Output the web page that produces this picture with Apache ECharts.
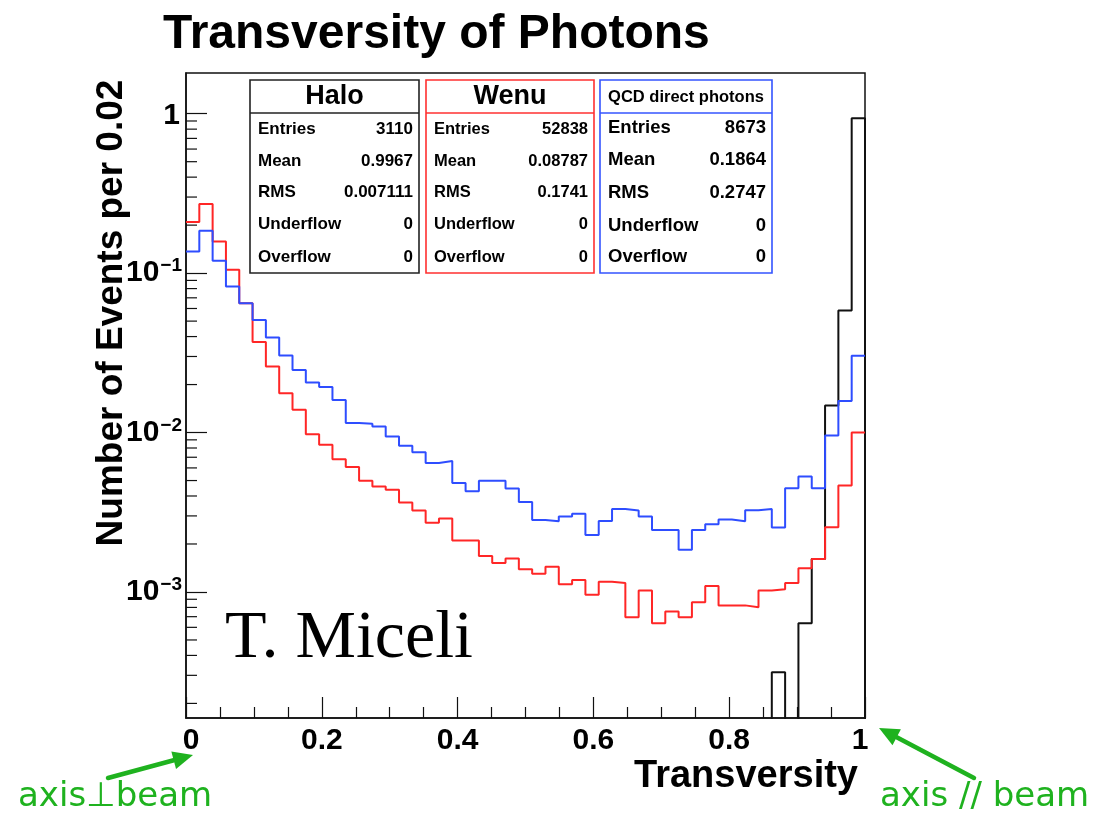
<!DOCTYPE html>
<html>
<head>
<meta charset="utf-8">
<script src="https://cdn.jsdelivr.net/npm/echarts@6/dist/echarts.min.js"></script>
<style>
  html, body { margin: 0; padding: 0; background: #fff; }
  #chart { width: 1095px; height: 815px; }
</style>
</head>
<body>
<div id="chart"></div>
<script>
// Normalised transversity histograms, 51 equal bins spanning 0..1
const binCount = 51;

const wenu = [
  0.2089, 0.2710, 0.1578, 0.1049, 0.0648, 0.03692, 0.02594, 0.01767, 0.01388, 0.00977,
  0.00837, 0.00681, 0.00607, 0.00498, 0.00458, 0.00437, 0.00364, 0.00324, 0.00272, 0.00289,
  0.00210, 0.00210, 0.00168, 0.00152, 0.00162, 0.00139, 0.00130, 0.00144, 0.00112, 0.00119,
  0.000959, 0.00116, 0.00114, 0.000693, 0.00102, 0.000637, 0.000753, 0.000693, 0.000861, 0.00109,
  0.000824, 0.000824, 0.000803, 0.00102, 0.00104, 0.00114, 0.00141, 0.00161, 0.00255, 0.00466,
  0.0100
];

const qcd = [
  0.1366, 0.1842, 0.1195, 0.0824, 0.0648, 0.0509, 0.0394, 0.0304, 0.0247, 0.0206,
  0.0193, 0.0160, 0.01146, 0.01135, 0.01091, 0.00944, 0.00825, 0.00753, 0.00645, 0.00662,
  0.00482, 0.00429, 0.00498, 0.00498, 0.00445, 0.00367, 0.00283, 0.00278, 0.00297, 0.00309,
  0.00228, 0.00279, 0.00331, 0.00324, 0.00297, 0.00245, 0.00245, 0.00184, 0.00245, 0.00266,
  0.00285, 0.00278, 0.00325, 0.00331, 0.00254, 0.00448, 0.00530, 0.00448, 0.00960, 0.0158,
  0.0303
];

const halo = [
  0, 0, 0, 0, 0, 0, 0, 0, 0, 0,
  0, 0, 0, 0, 0, 0, 0, 0, 0, 0,
  0, 0, 0, 0, 0, 0, 0, 0, 0, 0,
  0, 0, 0, 0, 0, 0, 0, 0, 0, 0,
  0, 0, 0, 0, 0.000314, 0, 0.000637, 0.00161, 0.0148, 0.0582,
  0.938
];

// Statistics boxes
const statNames = ['Entries', 'Mean', 'RMS', 'Underflow', 'Overflow'];
const haloStats = ['3110', '0.9967', '0.007111', '0', '0'];
const wenuStats = ['52838', '0.08787', '0.1741', '0', '0'];
const qcdStats  = ['8673', '0.1864', '0.2747', '0', '0'];

// Axis ranges
const xRange = [0, 1];
const yRange = [1.62e-4, 1.8];
const yDecades = [-3, -2, -1, 0];

const FONT = '"Liberation Sans", Arial, Helvetica, sans-serif';
const FLOOR = 1e-8;   // empty bins sit far below the visible range

// Histogram outline points: left edge of each bin, then the right end
function outline(vals, closeRight) {
  const pts = vals.map((v, i) => [i / binCount, v > 0 ? v : FLOOR]);
  const last = vals[vals.length - 1];
  pts.push([1, last > 0 ? last : FLOOR]);
  if (closeRight) pts.push([1, FLOOR]);
  return pts;
}

// Minor ticks of the log axis at 2..9 x 10^n
const yMinorTicks = [];
for (let p = -4; p <= 0; p++) {
  for (let m = 2; m <= 9; m++) {
    const v = m * Math.pow(10, p);
    if (v > yRange[0] && v < yRange[1]) yMinorTicks.push([0, v]);
  }
}

function histSeries(name, vals, color, closeRight) {
  return {
    name: name,
    type: 'line',
    step: 'end',
    data: outline(vals, closeRight),
    symbol: 'none',
    clip: true,
    lineStyle: { color: color, width: 2 },
    animation: false
  };
}

function statBox(x, w, color, title, titleSize, bodySize, rowYs, values) {
  const els = [];
  els.push({ type: 'rect', shape: { x: x, y: 80, width: w, height: 193 },
    style: { fill: '#fff', stroke: color, lineWidth: 1.6 }, z: 10 });
  els.push({ type: 'line', shape: { x1: x, y1: 113, x2: x + w, y2: 113 },
    style: { stroke: color, lineWidth: 1.6 }, z: 11 });
  els.push({ type: 'text', x: x + w / 2, y: 97, z: 11,
    style: { text: title, align: 'center', verticalAlign: 'middle',
      font: 'bold ' + titleSize + 'px ' + FONT, fill: '#000' } });
  statNames.forEach((n, i) => {
    els.push({ type: 'text', x: x + 8, y: rowYs[i], z: 11,
      style: { text: n, align: 'left', verticalAlign: 'middle',
        font: 'bold ' + bodySize + 'px ' + FONT, fill: '#000' } });
    els.push({ type: 'text', x: x + w - 6, y: rowYs[i], z: 11,
      style: { text: values[i], align: 'right', verticalAlign: 'middle',
        font: 'bold ' + bodySize + 'px ' + FONT, fill: '#000' } });
  });
  return els;
}

function arrow(x1, y1, x2, y2, color) {
  const ang = Math.atan2(y2 - y1, x2 - x1);
  const len = 20, half = 9;
  const bx = x2 - len * Math.cos(ang), by = y2 - len * Math.sin(ang);
  const px = -Math.sin(ang) * half, py = Math.cos(ang) * half;
  return [
    { type: 'line', shape: { x1: x1, y1: y1, x2: bx, y2: by },
      style: { stroke: color, lineWidth: 4.5, lineCap: 'round' } },
    { type: 'polygon', shape: { points: [[x2, y2], [bx + px, by + py], [bx - px, by - py]] },
      style: { fill: color } }
  ];
}

const green = '#1fb21f';
const rowsA = [129, 161, 192.5, 224.5, 257];
const rowsB = [128, 160, 192.5, 225.5, 257];

const graphics = []
  .concat(statBox(250, 169, '#222', 'Halo', 27, 17, rowsA, haloStats))
  .concat(statBox(426, 168, '#ff3030', 'Wenu', 27, 16.5, rowsA, wenuStats))
  .concat(statBox(600, 172, '#3454ff', 'QCD direct photons', 16.5, 18.5, rowsB, qcdStats))
  .concat([
    { type: 'text', x: 112, y: 313, rotation: Math.PI / 2,
      style: { text: 'Number of Events per 0.02', align: 'center', verticalAlign: 'middle',
        font: 'bold 37px ' + FONT, fill: '#000' } },
    { type: 'text', x: 858, y: 777,
      style: { text: 'Transversity', align: 'right', verticalAlign: 'middle',
        font: 'bold 38px ' + FONT, fill: '#000' } },
    { type: 'text', x: 225, y: 639,
      style: { text: 'T. Miceli', align: 'left', verticalAlign: 'middle',
        font: '68px "Liberation Serif", "Times New Roman", serif', fill: '#000' } },
    { type: 'text', x: 18, y: 797,
      style: { text: 'axis\u22A5beam', align: 'left', verticalAlign: 'middle',
        font: '34px "DejaVu Sans", sans-serif', fill: green } },
    { type: 'text', x: 880, y: 797,
      style: { text: 'axis // beam', align: 'left', verticalAlign: 'middle',
        font: '34px "DejaVu Sans", sans-serif', fill: green } }
  ])
  .concat(arrow(108, 778, 193, 755, green))
  .concat(arrow(974, 778, 879, 728, green));

const chart = echarts.init(document.getElementById('chart'), null, { renderer: 'canvas' });
chart.setOption({
  animation: false,
  backgroundColor: '#fff',
  title: {
    text: 'Transversity of Photons',
    left: 158, top: 6,
    textStyle: { fontSize: 48, fontWeight: 'bold', fontFamily: FONT, color: '#000' }
  },
  grid: {
    left: 186, top: 73, width: 679, height: 645,
    show: true, borderColor: '#111', borderWidth: 1.5, backgroundColor: '#fff'
  },
  xAxis: {
    type: 'value', min: xRange[0], max: xRange[1], interval: 0.2,
    axisLine: { show: true, onZero: false, lineStyle: { color: '#111', width: 1.5 } },
    axisTick: { show: true, inside: true, length: 21, lineStyle: { color: '#111', width: 1.2 } },
    minorTick: { show: true, splitNumber: 4, length: 11, lineStyle: { color: '#111', width: 1.2 } },
    splitLine: { show: false },
    axisLabel: {
      margin: 8, fontSize: 30, fontWeight: 'bold', fontFamily: FONT, color: '#000',
      formatter: v => {
        if (Math.abs(v) < 1e-9) return '{lo|0}';
        if (Math.abs(v - 1) < 1e-9) return '{hi|1}';
        return v.toFixed(1);
      },
      rich: {
        lo: { fontSize: 30, fontWeight: 'bold', fontFamily: FONT, color: '#000', padding: [0, 0, 0, 10] },
        hi: { fontSize: 30, fontWeight: 'bold', fontFamily: FONT, color: '#000', padding: [0, 10, 0, 0] }
      }
    }
  },
  yAxis: {
    type: 'log', logBase: 10, min: yRange[0], max: yRange[1],
    axisLine: { show: true, onZero: false, lineStyle: { color: '#111', width: 1.5 } },
    axisTick: { show: true, inside: true, length: 21, lineStyle: { color: '#111', width: 1.2 } },
    minorTick: { show: false },
    splitLine: { show: false },
    axisLabel: {
      margin: 4, fontSize: 30, fontWeight: 'bold', fontFamily: FONT, color: '#000',
      showMinLabel: false, showMaxLabel: false,
      formatter: v => {
        const e = Math.log10(v);
        const r = Math.round(e);
        if (Math.abs(e - r) > 1e-6 || yDecades.indexOf(r) < 0) return '';
        if (r === 0) return '{one|1}';
        return '10{s|' + String(r).replace('-', '\u2212') + '}';
      },
      rich: {
        one: { fontSize: 30, fontWeight: 'bold', fontFamily: FONT, color: '#000', padding: [4, 2, 0, 0] },
        s: { fontSize: 19, fontWeight: 'bold', fontFamily: FONT, color: '#000',
             verticalAlign: 'top', padding: [0, 0, 14, 1] }
      }
    }
  },
  series: [
    histSeries('Halo', halo, '#111', true),
    histSeries('Wenu', wenu, '#ff2626', false),
    histSeries('QCD direct photons', qcd, '#2e4dff', false),
    {
      type: 'custom',
      data: yMinorTicks,
      silent: true,
      animation: false,
      renderItem: (params, api) => {
        const p = api.coord([0, api.value(1)]);
        return { type: 'line', shape: { x1: p[0], y1: p[1], x2: p[0] + 11, y2: p[1] },
          style: { stroke: '#111', lineWidth: 1.2 } };
      }
    }
  ],
  graphic: { elements: graphics }
});
</script>
</body>
</html>
